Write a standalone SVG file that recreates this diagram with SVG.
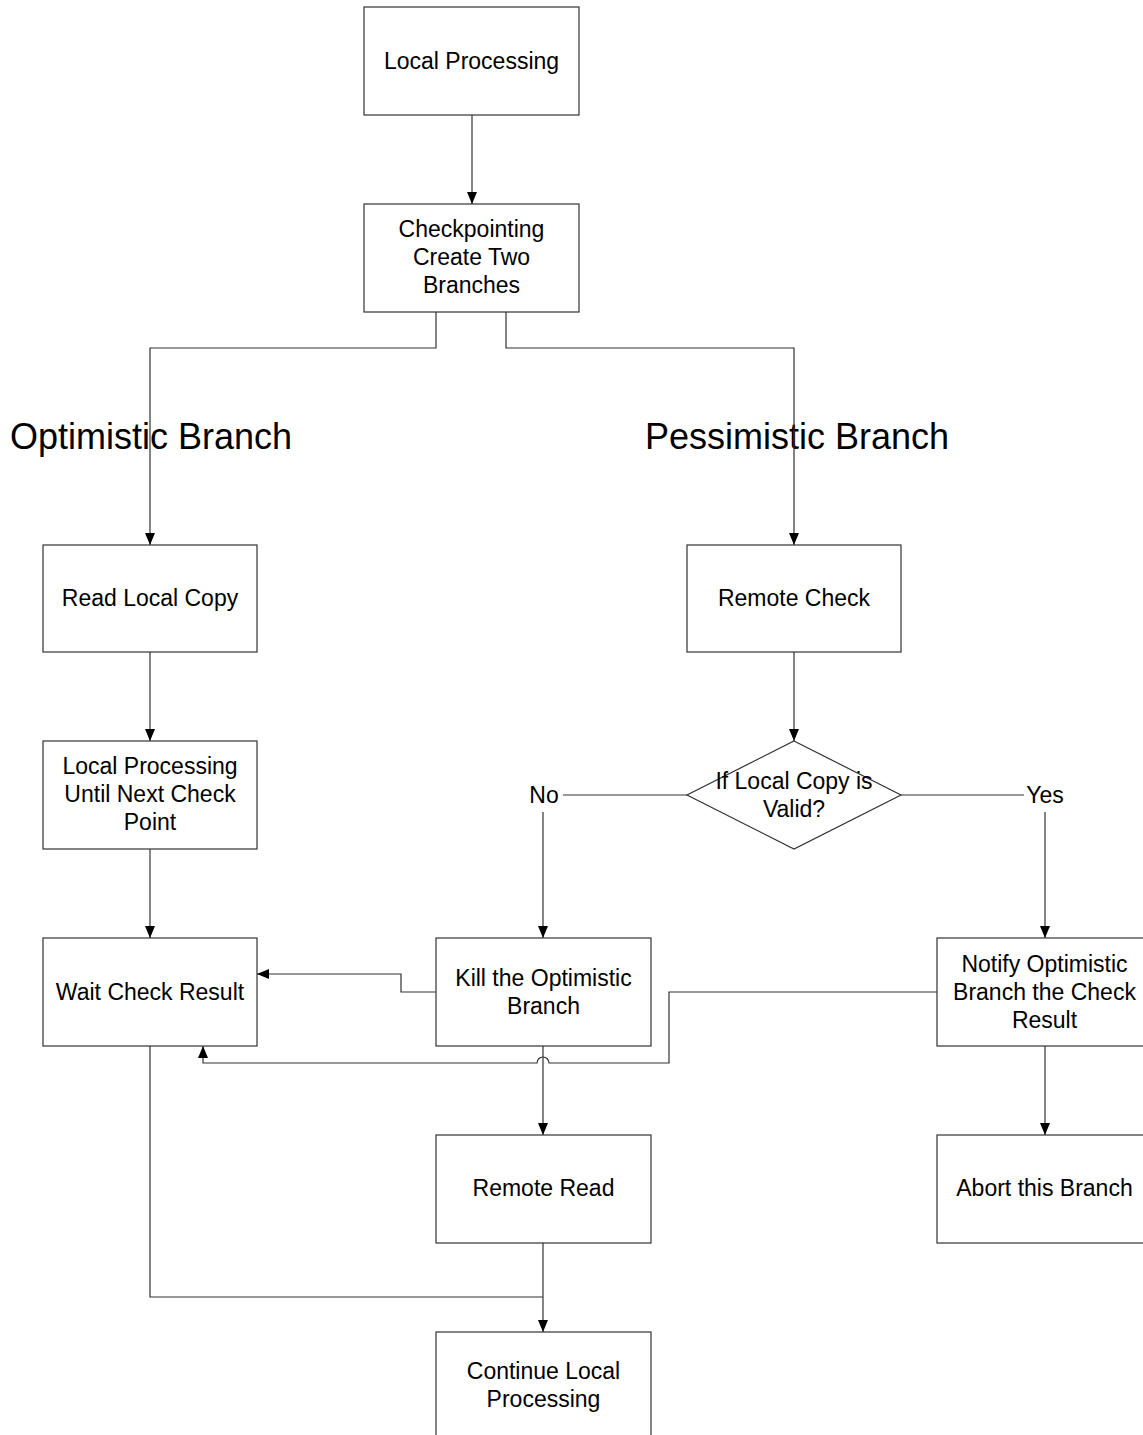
<svg xmlns="http://www.w3.org/2000/svg" width="1143" height="1435" viewBox="0 0 1143 1435">
  <style>
    .box { fill: #ffffff; stroke: #333333; stroke-width: 1.2; }
    .lbl { font-family: "Liberation Sans", Arial, sans-serif; font-size: 23px; fill: #000000; text-anchor: middle; }
    .title { font-family: "Liberation Sans", Arial, sans-serif; font-size: 36px; fill: #000000; }
    .edge { fill: none; stroke: #333333; stroke-width: 1.2; }
  </style>
  <defs>
    <marker id="arrow" markerUnits="userSpaceOnUse" markerWidth="12" markerHeight="10" refX="12" refY="5" orient="auto">
      <path d="M0,0 L12,5 L0,10 z" fill="#000000"/>
    </marker>
  </defs>
  <rect width="1143" height="1435" fill="#ffffff"/>

  <!-- branch headings -->
  <text class="title" x="10" y="449">Optimistic Branch</text>
  <text class="title" x="645" y="449">Pessimistic Branch</text>

  <!-- connectors -->
  <g id="connectors">
    <path class="edge" d="M472,115 V204" marker-end="url(#arrow)"/>
    <path class="edge" d="M436,312 V348 H150 V545" marker-end="url(#arrow)"/>
    <path class="edge" d="M506,312 V348 H794 V545" marker-end="url(#arrow)"/>
    <path class="edge" d="M150,652 V741" marker-end="url(#arrow)"/>
    <path class="edge" d="M150,849 V938" marker-end="url(#arrow)"/>
    <path class="edge" d="M794,652 V741" marker-end="url(#arrow)"/>
    <path class="edge" d="M687,795 H563"/>
    <path class="edge" d="M543,812 V938" marker-end="url(#arrow)"/>
    <path class="edge" d="M901,795 H1024"/>
    <path class="edge" d="M1045,812 V938" marker-end="url(#arrow)"/>
    <path class="edge" d="M436,992 H401 V974 H257" marker-end="url(#arrow)"/>
    <path class="edge" d="M937,992 H669 V1063 H549 A6,6 0 0 0 537,1063 H203 V1046" marker-end="url(#arrow)"/>
    <path class="edge" d="M543,1046 V1135" marker-end="url(#arrow)"/>
    <path class="edge" d="M1045,1046 V1135" marker-end="url(#arrow)"/>
    <path class="edge" d="M543,1243 V1332" marker-end="url(#arrow)"/>
    <path class="edge" d="M150,1046 V1297 H543"/>
  </g>

  <!-- nodes -->
  <g id="local-processing">
    <rect class="box" x="364" y="7" width="215" height="108"/>
    <text class="lbl" x="471.5" y="69">Local Processing</text>
  </g>
  <g id="checkpointing">
    <rect class="box" x="364" y="204" width="215" height="108"/>
    <text class="lbl" x="471.5" y="237">Checkpointing</text>
    <text class="lbl" x="471.5" y="265">Create Two</text>
    <text class="lbl" x="471.5" y="293">Branches</text>
  </g>
  <g id="read-local-copy">
    <rect class="box" x="43" y="545" width="214" height="107"/>
    <text class="lbl" x="150" y="606">Read Local Copy</text>
  </g>
  <g id="local-processing-until">
    <rect class="box" x="43" y="741" width="214" height="108"/>
    <text class="lbl" x="150" y="774">Local Processing</text>
    <text class="lbl" x="150" y="802">Until Next Check</text>
    <text class="lbl" x="150" y="830">Point</text>
  </g>
  <g id="wait-check-result">
    <rect class="box" x="43" y="938" width="214" height="108"/>
    <text class="lbl" x="150" y="1000">Wait Check Result</text>
  </g>
  <g id="remote-check">
    <rect class="box" x="687" y="545" width="214" height="107"/>
    <text class="lbl" x="794" y="606">Remote Check</text>
  </g>
  <g id="decision">
    <polygon class="box" points="794,741 901,795 794,849 687,795"/>
    <text class="lbl" x="794" y="789">If Local Copy is</text>
    <text class="lbl" x="794" y="817">Valid?</text>
  </g>
  <g id="label-no">
    <text class="lbl" x="544" y="803">No</text>
  </g>
  <g id="label-yes">
    <text class="lbl" x="1045" y="803">Yes</text>
  </g>
  <g id="kill-optimistic">
    <rect class="box" x="436" y="938" width="215" height="108"/>
    <text class="lbl" x="543.5" y="986">Kill the Optimistic</text>
    <text class="lbl" x="543.5" y="1014">Branch</text>
  </g>
  <g id="notify-optimistic">
    <rect class="box" x="937" y="938" width="215" height="108"/>
    <text class="lbl" x="1044.5" y="972">Notify Optimistic</text>
    <text class="lbl" x="1044.5" y="1000">Branch the Check</text>
    <text class="lbl" x="1044.5" y="1028">Result</text>
  </g>
  <g id="remote-read">
    <rect class="box" x="436" y="1135" width="215" height="108"/>
    <text class="lbl" x="543.5" y="1196">Remote Read</text>
  </g>
  <g id="abort-branch">
    <rect class="box" x="937" y="1135" width="215" height="108"/>
    <text class="lbl" x="1044.5" y="1196">Abort this Branch</text>
  </g>
  <g id="continue-local">
    <rect class="box" x="436" y="1332" width="215" height="108"/>
    <text class="lbl" x="543.5" y="1379">Continue Local</text>
    <text class="lbl" x="543.5" y="1407">Processing</text>
  </g>
</svg>
